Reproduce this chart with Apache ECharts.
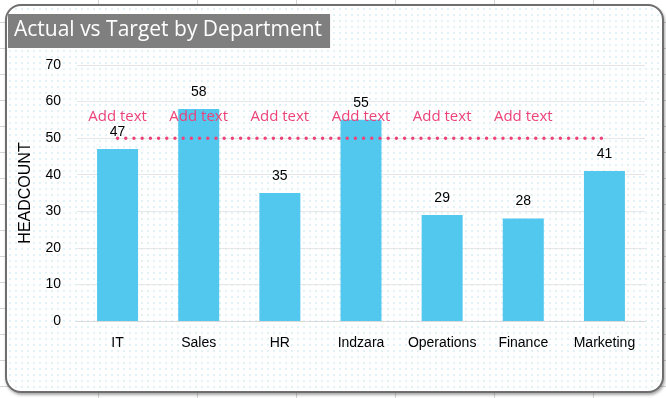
<!DOCTYPE html>
<html>
<head>
<meta charset="utf-8">
<script src="https://cdn.jsdelivr.net/npm/echarts@6/dist/echarts.min.js"></script>
<style>
html,body{margin:0;padding:0;width:666px;height:398px;overflow:hidden;background:#fff;}
#bg{position:absolute;left:0;top:0;width:666px;height:398px;
background-image:linear-gradient(to right,#d4d4d4 1px,transparent 1px),linear-gradient(to bottom,#d4d4d4 1px,transparent 1px);
background-size:99px 100%,100% 26px;background-position:-1px 0,0 -4px;}
#card{position:absolute;left:5px;top:4px;width:655px;height:385px;border:2px solid #6e6e6e;border-radius:16px;background:#fff;box-shadow:1px 2px 3px rgba(0,0,0,0.35);
background-image:radial-gradient(circle,#dff1f7 0.7px,transparent 0.8px);background-size:6px 6px;}
#chart{position:absolute;left:0;top:0;width:666px;height:398px;}
</style>
</head>
<body>
<div id="bg"></div>
<div id="card"></div>
<div id="chart"></div>
<script>
const categories = ["IT","Sales","HR","Indzara","Operations","Finance","Marketing"];
const actual = [47,58,35,55,29,28,41];
const target = [50,50,50,50,50,50,50];
const targetLabels = ["Add text","Add text","Add text","Add text","Add text","Add text",""];
const yTicks = {min:0,max:70,interval:10};

const chart = echarts.init(document.getElementById('chart'), null, {renderer:'canvas'});
const font = "Liberation Sans, Arial, sans-serif";
chart.setOption({
  animation:false,
  title:{
    text:"Actual vs Target by Department",
    left:8, top:14,
    backgroundColor:'#7f7f7f',
    padding:[6,8,7,6],
    textStyle:{color:'#fff',fontSize:21,fontWeight:'normal',fontFamily:'Open Sans, sans-serif'}
  },
  grid:{left:77,right:21,top:65,bottom:77},
  xAxis:{
    type:'category',
    data:categories,
    axisLine:{lineStyle:{color:'#d9d9d9'}},
    axisTick:{show:false},
    axisLabel:{color:'#000',fontSize:14,fontFamily:font,margin:15,interval:0}
  },
  yAxis:{
    type:'value',
    min:yTicks.min,max:yTicks.max,interval:yTicks.interval,
    name:'HEADCOUNT',nameLocation:'middle',nameRotate:90,nameGap:43,
    nameTextStyle:{color:'#000',fontSize:16,fontFamily:font},
    axisLine:{show:false},axisTick:{show:false},
    axisLabel:{color:'#000',fontSize:14,fontFamily:font,margin:16},
    splitLine:{lineStyle:{color:'#e6e6e6'}}
  },
  series:[
    {
      type:'bar',
      data:actual,
      barWidth:41,
      itemStyle:{color:'#52C8EE'},
      label:{show:true,position:'top',distance:10,color:'#000',fontSize:14,fontFamily:font}
    },
    {
      type:'line',
      data:target.map((v,i)=>({value:v,label:{show:targetLabels[i]!==''}})),
      symbol:'circle',
      symbolSize:1,
      showSymbol:true,
      itemStyle:{color:'rgba(0,0,0,0)'},
      lineStyle:{color:'#EC4379',width:3.5,type:[0,8.2],cap:'round'},
      label:{show:true,position:'top',distance:13,color:'#EC4379',fontSize:15,fontFamily:'Open Sans, sans-serif',
        formatter:(p)=>targetLabels[p.dataIndex]},
      z:5
    }
  ]
});
</script>
</body>
</html>
